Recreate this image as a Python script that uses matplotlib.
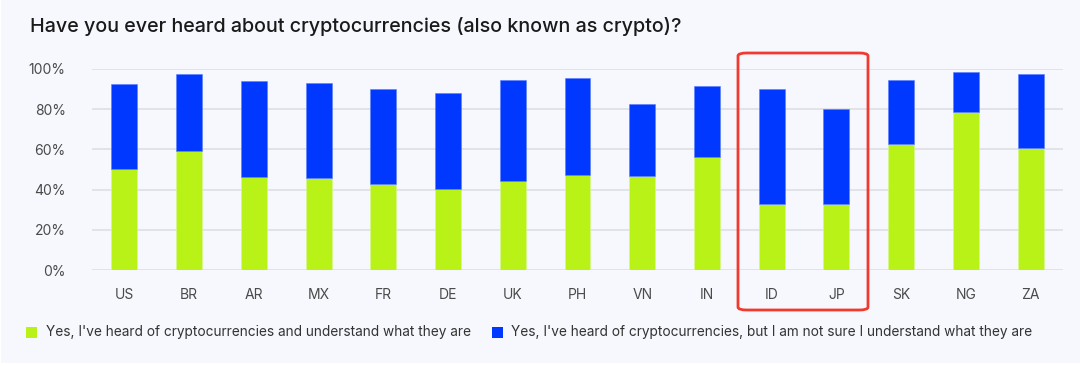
import matplotlib
matplotlib.use("Agg")
import matplotlib.pyplot as plt
from matplotlib.patches import Rectangle, FancyBboxPatch
import numpy as np

countries = ["US", "BR", "AR", "MX", "FR", "DE", "UK", "PH", "VN", "IN", "ID", "JP", "SK", "NG", "ZA"]
understand = [50.2, 59.0, 46.3, 45.6, 42.6, 40.5, 44.1, 47.1, 46.6, 56.1, 32.7, 32.8, 62.9, 78.4, 60.9]
total_heard = [92.4, 97.4, 93.9, 93.2, 90.0, 87.9, 94.4, 95.4, 82.8, 91.7, 90.0, 80.0, 94.4, 98.7, 97.7]
not_sure = [t - u for t, u in zip(total_heard, understand)]
yticks = [0, 20, 40, 60, 80, 100]
labels = ["Yes, I've heard of cryptocurrencies and understand what they are",
          "Yes, I've heard of cryptocurrencies, but I am not sure I understand what they are"]
title = "Have you ever heard about cryptocurrencies (also known as crypto)?"

GREEN = "#B9F216"
BLUE = "#0038FF"
BG = "#F7F8FD"
W, H = 1080, 366

plt.rcParams['font.family'] = ['Inter', 'DejaVu Sans']

fig = plt.figure(figsize=(W / 100, H / 100), dpi=100, facecolor="white")
fig.patches.append(Rectangle((1 / W, 3 / H), 1 - 1 / W, 1 - 3 / H, transform=fig.transFigure,
                             facecolor=BG, edgecolor="none", zorder=-10))

ax = fig.add_axes([92 / W, 1 - 270 / H, (1063 - 92) / W, (270 - 69) / H])
ax.set_facecolor("none")
x = np.arange(len(countries))
ax.bar(x, understand, width=0.40, color=GREEN, zorder=3, edgecolor="#d8f88a", linewidth=0.4)
ax.bar(x, not_sure, bottom=understand, width=0.40, color=BLUE, zorder=3, edgecolor="#5a7dff", linewidth=0.4)
ax.set_xlim(-0.5, len(countries) - 0.5)
ax.set_ylim(0, 100)
ax.set_yticks(yticks)
ax.set_yticklabels([f"{v}%" for v in yticks])
ax.set_xticks(x)
ax.set_xticklabels(countries)
ax.tick_params(axis="both", length=0, labelsize=10, colors="#4a4a4a")
ax.tick_params(axis="x", pad=13)
ax.tick_params(axis="y", pad=19)
for s in ax.spines.values():
    s.set_visible(False)
ax.grid(axis="y", color="#DEDFE4", linewidth=1.2, zorder=0)
for lab in ax.get_yticklabels():
    lab.set_horizontalalignment("right")

fig.text(30 / W, 1 - 27 / H, title, fontsize=14.2, fontweight="medium", color="#1a1a1a", va="center", ha="left")

# red highlight box
fig.patches.append(FancyBboxPatch((738 / W, 1 - 310 / H), (868 - 738) / W, (310 - 53) / H,
                                  boxstyle="round,pad=0,rounding_size=0.008", transform=fig.transFigure,
                                  facecolor="none", edgecolor="#F03A30", linewidth=2.0, zorder=5))

# legend
ly = 1 - 332 / H
fig.patches.append(Rectangle((26 / W, 1 - 338 / H), 11 / W, 11 / H, transform=fig.transFigure,
                             facecolor=GREEN, edgecolor="none"))
fig.text(46 / W, ly, labels[0], fontsize=9.85, color="#333333", va="center", ha="left")
fig.patches.append(Rectangle((492 / W, 1 - 338 / H), 11 / W, 11 / H, transform=fig.transFigure,
                             facecolor=BLUE, edgecolor="none"))
fig.text(511 / W, ly, labels[1], fontsize=9.85, color="#333333", va="center", ha="left")

fig.savefig("out.png", dpi=100, facecolor="white")
